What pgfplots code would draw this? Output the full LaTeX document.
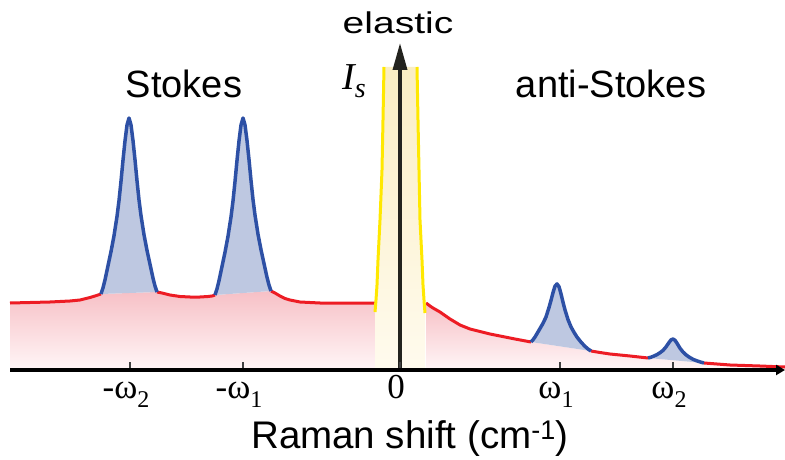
\documentclass[border=0pt]{standalone}
\usepackage{fontspec}
\setmainfont{Liberation Sans}
\newfontfamily\timesf{Liberation Serif}
\usepackage{graphicx}
\usepackage{pgfplots}
\pgfplotsset{compat=1.18}
\usetikzlibrary{arrows.meta}
\definecolor{redline}{RGB}{237,28,36}
\definecolor{pinktop}{RGB}{247,192,198}
\definecolor{pinkbot}{RGB}{255,246,247}
\definecolor{blueline}{RGB}{45,80,165}
\definecolor{bluefill}{RGB}{190,200,225}
\definecolor{yelline}{RGB}{255,232,0}
\definecolor{yeltop}{RGB}{250,238,195}
\definecolor{yelbot}{RGB}{255,251,238}
\definecolor{arrowc}{RGB}{35,35,30}
\newcommand\sub[1]{\raisebox{-9pt}{\fontsize{24}{24}\selectfont #1}}
\begin{document}
\begin{tikzpicture}
\useasboundingbox (-10pt,0pt) rectangle (775pt,459pt);
\begin{axis}[
  at={(0pt,0pt)}, anchor=south west,
  x=1pt, y=1pt, scale only axis,
  xmin=-390, xmax=385, ymin=-89, ymax=370,
  enlargelimits=false, clip=false,
  axis x line=middle, axis y line=none,
  axis on top,
  x axis line style={line width=3.8pt, black, -{Triangle[length=9pt,width=10pt]}},
  xtick={-270,-157,0,160,273},
  xticklabels={{-ω\sub{2}},{-ω\sub{1}},{0},{ω\sub{1}},{ω\sub{2}}},
  xtick align=inside,
  major tick length=8pt,
  xtick style={line width=2pt, black!75},
  xticklabel style={font=\timesf\fontsize{35}{35}\selectfont, anchor=base, yshift=-28pt, xshift=-4pt, inner sep=0pt},
  ytick=\empty,
  xlabel={Raman shift (cm\textsuperscript{-1})},
  xlabel style={at={(axis description cs:0.5161,0.0218)}, anchor=base, font=\fontsize{38.5}{38.5}\selectfont},
  no markers,
  every axis plot/.append style={line join=round},
]
% pink background fills
\addplot[draw=none, top color=pinktop, bottom color=pinkbot] coordinates {
(-390,0) (-390,67) (-370,67.5) (-350,68) (-330,69) (-320,70) (-310,72.5) (-305,74) (-299,76)
(-243,78) (-238,77) (-230,75) (-220,73.5) (-210,73) (-200,73) (-192,73.5) (-188,74) (-185,75)
(-129,79) (-125,77) (-120,74) (-115,71.5) (-110,70) (-100,68) (-80,67) (-60,67) (-40,67) (-25,67) (-25,0)};
\addplot[draw=none, top color=pinktop, bottom color=pinkbot] coordinates {
(26,0) (26,67) (30,64) (33,62) (40,58) (50,51) (60,45) (70,41) (80,38.5) (90,36) (100,34) (115,31) (131,28)
(191,19) (200,17.5) (210,16) (230,14) (248,12)
(304,7) (330,5) (360,4) (385,3) (385,0)};
% elastic fill
\addplot[draw=none, top color=yeltop, bottom color=yelbot] coordinates {
(-25,0) (-25,58) (-24,70) (-23,85) (-22,110) (-20,150) (-18,200) (-17,250) (-16,303)
(17,303) (18,250) (19,200) (20,150) (22,110) (23,85) (24,70) (25,57) (25,0)};
% blue peak fills
\addplot[draw=none, fill=bluefill] coordinates {
(-299,76) (-297,82.2) (-295,90.1) (-292,104.3) (-289,118.4) (-286,134.2) (-283,153.6) (-281,169.4)
(-279,188.7) (-277,209.8) (-275,229.1) (-273,244.9) (-271,252) (-269,245.1) (-267,229.4) (-265,210.2)
(-263,189.3) (-261,170.1) (-259,154.4) (-256,135.3) (-253,119.6) (-250,105.8) (-247,91.9) (-245,84.0) (-243,78)};
\addplot[draw=none, fill=bluefill] coordinates {
(-185,75) (-183,81.2) (-181,89.3) (-178,103.5) (-175,117.7) (-172,133.7) (-169,153.1) (-167,169.0)
(-165,188.4) (-163,209.6) (-161,229.0) (-159,244.9) (-157,252) (-155,245.1) (-153,229.5) (-151,210.4)
(-149,189.6) (-147,170.5) (-145,154.9) (-142,135.8) (-139,120.3) (-136,106.5) (-133,92.7) (-131,85.0) (-129,79)};
\addplot[draw=none, fill=bluefill] coordinates {
(131,28) (133,30.2) (135,33.0) (137,36.4) (140,41.5) (143,46.7) (146,53.0) (149,62.5) (151,69.6)
(153,77.4) (155,83.9) (157,86.1) (159,83.3) (161,76.2) (163,67.8) (165,60.1) (168,50.4) (171,43.1)
(174,37.7) (177,32.9) (181,27.9) (185,23.6) (188,21.0) (191,19)};
\addplot[draw=none, fill=bluefill] coordinates {
(248,12) (251,12.8) (254,14.0) (257,15.4) (260,17.3) (263,19.6) (266,23.1) (269,27.5) (271,30.1)
(273,31.0) (275,29.7) (277,26.8) (280,21.8) (283,18.0) (286,15.2) (289,13.0) (293,10.7) (297,9.1) (301,7.8) (304,7)};
% red background lines
\addplot[redline, line width=3pt] coordinates {
(-390,67) (-370,67.5) (-350,68) (-330,69) (-320,70) (-310,72.5) (-305,74) (-299,76)};
\addplot[redline, line width=3pt] coordinates {
(-243,78) (-238,77) (-230,75) (-220,73.5) (-210,73) (-200,73) (-192,73.5) (-188,74) (-185,75)};
\addplot[redline, line width=3pt] coordinates {
(-129,79) (-125,77) (-120,74) (-115,71.5) (-110,70) (-100,68) (-80,67) (-60,67) (-40,67) (-25,67)};
\addplot[redline, line width=3pt] coordinates {
(26,67) (30,64) (33,62) (40,58) (50,51) (60,45) (70,41) (80,38.5) (90,36) (100,34) (115,31) (131,28)};
\addplot[redline, line width=3pt] coordinates {
(191,19) (200,17.5) (210,16) (230,14) (248,12)};
\addplot[redline, line width=3pt] coordinates {
(304,7) (330,5) (360,4) (385,3)};
% blue peak lines
\addplot[blueline, line width=3.5pt] coordinates {
(-299,76) (-297,82.2) (-295,90.1) (-292,104.3) (-289,118.4) (-286,134.2) (-283,153.6) (-281,169.4)
(-279,188.7) (-277,209.8) (-275,229.1) (-273,244.9) (-271,252) (-269,245.1) (-267,229.4) (-265,210.2)
(-263,189.3) (-261,170.1) (-259,154.4) (-256,135.3) (-253,119.6) (-250,105.8) (-247,91.9) (-245,84.0) (-243,78)};
\addplot[blueline, line width=3.5pt] coordinates {
(-185,75) (-183,81.2) (-181,89.3) (-178,103.5) (-175,117.7) (-172,133.7) (-169,153.1) (-167,169.0)
(-165,188.4) (-163,209.6) (-161,229.0) (-159,244.9) (-157,252) (-155,245.1) (-153,229.5) (-151,210.4)
(-149,189.6) (-147,170.5) (-145,154.9) (-142,135.8) (-139,120.3) (-136,106.5) (-133,92.7) (-131,85.0) (-129,79)};
\addplot[blueline, line width=3.5pt] coordinates {
(131,28) (133,30.2) (135,33.0) (137,36.4) (140,41.5) (143,46.7) (146,53.0) (149,62.5) (151,69.6)
(153,77.4) (155,83.9) (157,86.1) (159,83.3) (161,76.2) (163,67.8) (165,60.1) (168,50.4) (171,43.1)
(174,37.7) (177,32.9) (181,27.9) (185,23.6) (188,21.0) (191,19)};
\addplot[blueline, line width=3.5pt] coordinates {
(248,12) (251,12.8) (254,14.0) (257,15.4) (260,17.3) (263,19.6) (266,23.1) (269,27.5) (271,30.1)
(273,31.0) (275,29.7) (277,26.8) (280,21.8) (283,18.0) (286,15.2) (289,13.0) (293,10.7) (297,9.1) (301,7.8) (304,7)};
% elastic peak edges
\addplot[yelline, line width=3pt] coordinates {
(-25,58) (-24,70) (-23,85) (-22,110) (-20,150) (-18,200) (-17,250) (-16,303)};
\addplot[yelline, line width=3pt] coordinates {
(25,57) (24,70) (23,85) (22,110) (20,150) (19,200) (18,250) (17,303)};
% elastic arrow
\addplot[arrowc, line width=3.5pt, -{Triangle[length=27pt,width=14pt]}] coordinates {(0,0) (0,327)};
% annotations
\node[anchor=base] at (axis cs:-2,336) {\fontsize{30}{30}\selectfont\scalebox{1.3}[1]{elastic}};
\node[anchor=base] at (axis cs:-216,273) {\fontsize{38}{38}\selectfont Stokes};
\node[anchor=base] at (axis cs:211,273) {\fontsize{38}{38}\selectfont anti-Stokes};
\node[anchor=base] at (axis cs:-46,281) {\timesf\itshape\fontsize{38}{38}\selectfont I\raisebox{-8pt}{\fontsize{28}{28}\selectfont s}};
\end{axis}
\end{tikzpicture}
\end{document}
